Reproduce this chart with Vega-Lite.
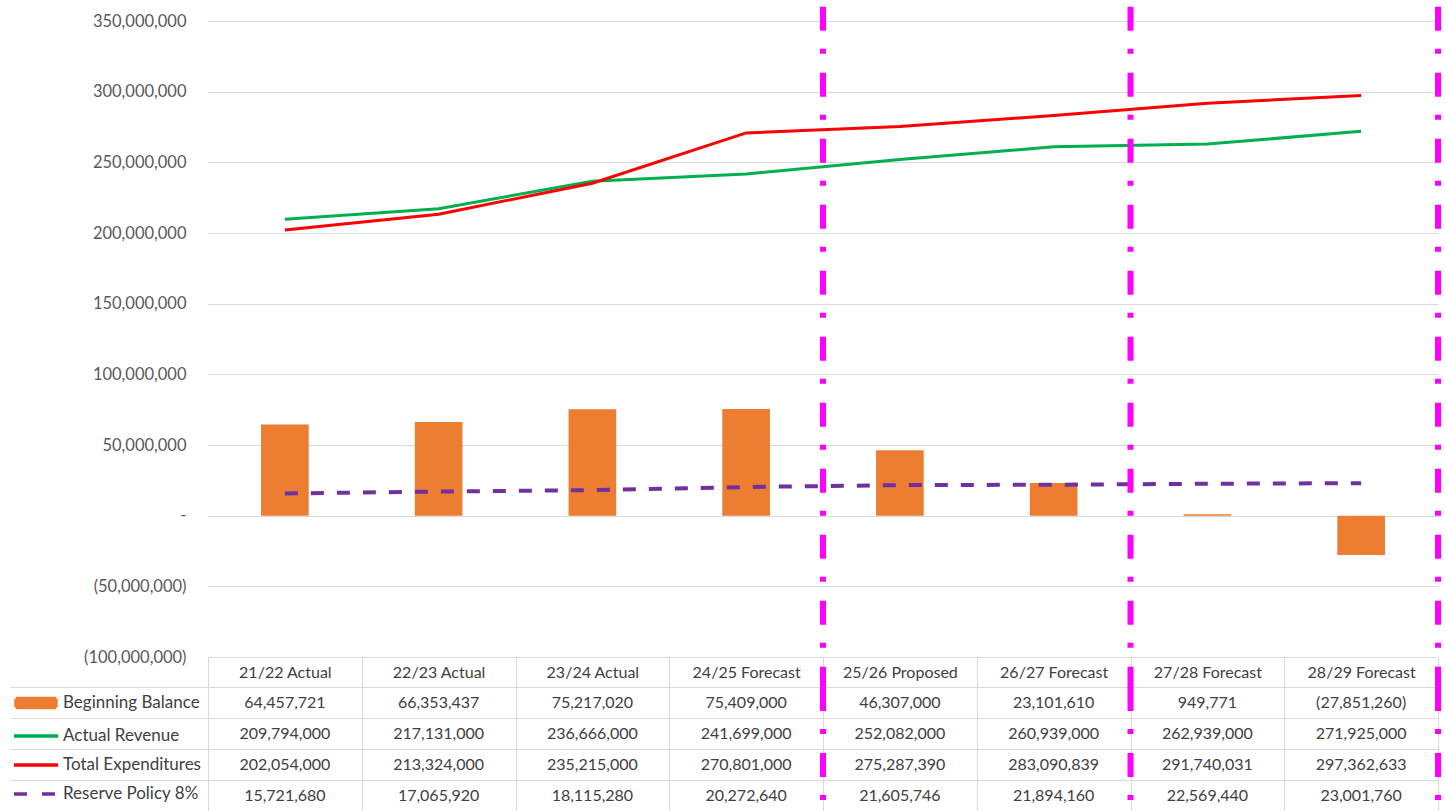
{
  "$schema": "https://vega.github.io/schema/vega-lite/v6.json",
  "padding": {"left": 9, "top": 3, "right": 5, "bottom": 0},
  "autosize": {"type": "pad"},
  "background": "white",
  "bounds": "flush",
  "config": {"view": {"stroke": null}, "font": "Lato"},
  "datasets": {
    "fin": [
      {"cat": "21/22 Actual", "series": "Beginning Balance", "value": 64457721},
      {"cat": "22/23 Actual", "series": "Beginning Balance", "value": 66353437},
      {"cat": "23/24 Actual", "series": "Beginning Balance", "value": 75217020},
      {"cat": "24/25 Forecast", "series": "Beginning Balance", "value": 75409000},
      {"cat": "25/26 Proposed", "series": "Beginning Balance", "value": 46307000},
      {"cat": "26/27 Forecast", "series": "Beginning Balance", "value": 23101610},
      {"cat": "27/28 Forecast", "series": "Beginning Balance", "value": 949771},
      {"cat": "28/29 Forecast", "series": "Beginning Balance", "value": -27851260},
      {"cat": "21/22 Actual", "series": "Actual Revenue", "value": 209794000},
      {"cat": "22/23 Actual", "series": "Actual Revenue", "value": 217131000},
      {"cat": "23/24 Actual", "series": "Actual Revenue", "value": 236666000},
      {"cat": "24/25 Forecast", "series": "Actual Revenue", "value": 241699000},
      {"cat": "25/26 Proposed", "series": "Actual Revenue", "value": 252082000},
      {"cat": "26/27 Forecast", "series": "Actual Revenue", "value": 260939000},
      {"cat": "27/28 Forecast", "series": "Actual Revenue", "value": 262939000},
      {"cat": "28/29 Forecast", "series": "Actual Revenue", "value": 271925000},
      {"cat": "21/22 Actual", "series": "Total Expenditures", "value": 202054000},
      {"cat": "22/23 Actual", "series": "Total Expenditures", "value": 213324000},
      {"cat": "23/24 Actual", "series": "Total Expenditures", "value": 235215000},
      {"cat": "24/25 Forecast", "series": "Total Expenditures", "value": 270801000},
      {"cat": "25/26 Proposed", "series": "Total Expenditures", "value": 275287390},
      {"cat": "26/27 Forecast", "series": "Total Expenditures", "value": 283090839},
      {"cat": "27/28 Forecast", "series": "Total Expenditures", "value": 291740031},
      {"cat": "28/29 Forecast", "series": "Total Expenditures", "value": 297362633},
      {"cat": "21/22 Actual", "series": "Reserve Policy 8%", "value": 15721680},
      {"cat": "22/23 Actual", "series": "Reserve Policy 8%", "value": 17065920},
      {"cat": "23/24 Actual", "series": "Reserve Policy 8%", "value": 18115280},
      {"cat": "24/25 Forecast", "series": "Reserve Policy 8%", "value": 20272640},
      {"cat": "25/26 Proposed", "series": "Reserve Policy 8%", "value": 21605746},
      {"cat": "26/27 Forecast", "series": "Reserve Policy 8%", "value": 21894160},
      {"cat": "27/28 Forecast", "series": "Reserve Policy 8%", "value": 22569440},
      {"cat": "28/29 Forecast", "series": "Reserve Policy 8%", "value": 23001760}
    ]
  },
  "spacing": 30,
  "vconcat": [
    {
      "width": 1230,
      "height": 636,
      "data": {"name": "fin"},
      "encoding": {
        "x": {
          "field": "cat", "type": "nominal", "sort": null,
          "scale": {"domain": ["21/22 Actual", "22/23 Actual", "23/24 Actual", "24/25 Forecast", "25/26 Proposed", "26/27 Forecast", "27/28 Forecast", "28/29 Forecast"], "paddingInner": 0, "paddingOuter": 0},
          "axis": {
            "title": null, "domain": false, "grid": false,
            "ticks": true, "tickBand": "extent", "tickSize": 30, "tickColor": "#d9d9d9",
            "labelAngle": 0, "labelPadding": -15, "labelBaseline": "middle",
            "labelFont": "Lato", "labelFontSize": 16, "labelColor": "#404040"
          }
        }
      },
      "layer": [
        {
          "transform": [{"filter": "datum.series === 'Beginning Balance'"}],
          "mark": {"type": "bar", "width": {"band": 0.31}},
          "encoding": {
            "y": {
              "field": "value", "type": "quantitative",
              "scale": {"domain": [-100000000, 350000000], "nice": false},
              "axis": {
                "title": null,
                "values": [-100000000, -50000000, 0, 50000000, 100000000, 150000000, 200000000, 250000000, 300000000, 350000000],
                "labelExpr": "datum.value == 0 ? '-' : (datum.value < 0 ? '(' + format(-datum.value, ',') + ')' : format(datum.value, ','))",
                "grid": true, "gridColor": "#d9d9d9", "gridWidth": 1,
                "domain": false, "ticks": false,
                "labelPadding": 22, "labelFont": "Lato", "labelFontSize": 16.5, "labelColor": "#595959"
              }
            },
            "color": {
              "field": "series", "type": "nominal",
              "scale": {"domain": ["Beginning Balance", "Actual Revenue", "Total Expenditures", "Reserve Policy 8%"], "range": ["#ED7D31", "#00B050", "#FF0000", "#7030A0"]},
              "legend": {
                "orient": "none", "legendX": -184, "legendY": 670, "title": null, "direction": "vertical",
                "symbolSize": 400, "symbolStrokeWidth": 3,
                "labelFont": "Lato", "labelFontSize": 17, "labelColor": "#404040", "labelOffset": 15,
                "rowPadding": 9,
                "encode": {
                  "symbols": {
                    "update": {
                      "shape": {"signal": "datum.value === 'Beginning Balance' ? 'M-2,-0.45H2V0.45H-2Z' : 'M-2.2,0H2.2'"},
                      "fill": {"signal": "datum.value === 'Beginning Balance' ? '#ED7D31' : 'transparent'"},
                      "stroke": {"signal": "datum.value === 'Beginning Balance' ? 'transparent' : (datum.value === 'Actual Revenue' ? '#00B050' : (datum.value === 'Total Expenditures' ? '#FF0000' : '#7030A0'))"},
                      "strokeDash": {"signal": "datum.value === 'Reserve Policy 8%' ? [13, 15] : [1, 0]"},
                      "strokeWidth": {"value": 3.5},
                      "opacity": {"value": 1}
                    }
                  }
                }
              }
            }
          }
        },
        {
          "transform": [{"filter": "datum.series === 'Actual Revenue' || datum.series === 'Total Expenditures'"}],
          "mark": {"type": "line", "strokeWidth": 3},
          "encoding": {
            "y": {"field": "value", "type": "quantitative"},
            "color": {"field": "series", "type": "nominal"}
          }
        },
        {
          "transform": [{"filter": "datum.series === 'Reserve Policy 8%'"}],
          "mark": {"type": "line", "strokeWidth": 4, "strokeDash": [13, 13]},
          "encoding": {
            "y": {"field": "value", "type": "quantitative"},
            "color": {"field": "series", "type": "nominal"}
          }
        },
        {
          "transform": [{"filter": "datum.series === 'Beginning Balance' && (datum.cat === '25/26 Proposed' || datum.cat === '27/28 Forecast')"}],
          "mark": {"type": "rule", "color": "#FF00FF", "strokeWidth": 6, "strokeDash": [24, 18, 5, 19]},
          "encoding": {
            "x": {"field": "cat", "type": "nominal", "bandPosition": 0},
            "y": {"datum": 360000000},
            "y2": {"datum": -121200000}
          }
        },
        {
          "transform": [{"filter": "datum.series === 'Beginning Balance' && datum.cat === '28/29 Forecast'"}],
          "mark": {"type": "rule", "color": "#FF00FF", "strokeWidth": 6, "strokeDash": [24, 18, 5, 19]},
          "encoding": {
            "x": {"field": "cat", "type": "nominal", "bandPosition": 1},
            "y": {"datum": 360000000},
            "y2": {"datum": -121200000}
          }
        }
      ]
    },
    {
      "width": 1230,
      "height": 124,
      "data": {"name": "fin"},
      "encoding": {
        "x": {
          "field": "cat", "type": "nominal", "sort": null,
          "scale": {"domain": ["21/22 Actual", "22/23 Actual", "23/24 Actual", "24/25 Forecast", "25/26 Proposed", "26/27 Forecast", "27/28 Forecast", "28/29 Forecast"], "paddingInner": 0, "paddingOuter": 0},
          "axis": {"title": null, "labels": false, "ticks": false, "domain": false, "grid": true, "gridColor": "#d9d9d9", "tickBand": "extent"}
        }
      },
      "layer": [
        {
          "mark": {"type": "text", "font": "Lato", "fontSize": 16, "color": "#404040",
                   "text": {"expr": "datum.value < 0 ? '(' + format(-datum.value, ',') + ')' : format(datum.value, ',')"}},
          "encoding": {
            "y": {
              "field": "series", "type": "nominal",
              "scale": {"domain": ["Beginning Balance", "Actual Revenue", "Total Expenditures", "Reserve Policy 8%"], "paddingInner": 0, "paddingOuter": 0},
              "axis": {
                "title": null, "labels": false, "domain": false,
                "ticks": true, "tickSize": 198, "tickColor": "#d9d9d9", "tickBand": "extent",
                "grid": true, "gridColor": "#d9d9d9"
              }
            }
          }
        },
        {
          "transform": [{"filter": "datum.series === 'Beginning Balance' && (datum.cat === '25/26 Proposed' || datum.cat === '27/28 Forecast')"}],
          "mark": {"type": "rule", "color": "#FF00FF", "strokeWidth": 6, "strokeDash": [24, 18, 5, 19]},
          "encoding": {
            "x": {"field": "cat", "type": "nominal", "bandPosition": 0}
          }
        },
        {
          "transform": [{"filter": "datum.series === 'Beginning Balance' && datum.cat === '28/29 Forecast'"}],
          "mark": {"type": "rule", "color": "#FF00FF", "strokeWidth": 6, "strokeDash": [24, 18, 5, 19]},
          "encoding": {
            "x": {"field": "cat", "type": "nominal", "bandPosition": 1}
          }
        }
      ]
    }
  ]
}
